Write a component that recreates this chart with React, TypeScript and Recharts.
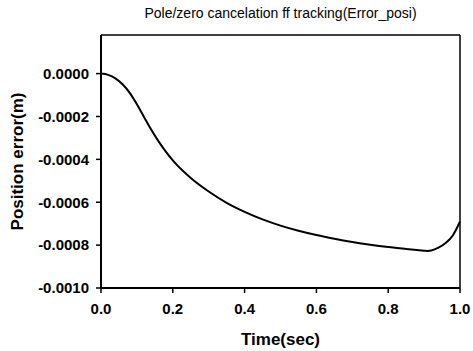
import React from 'react';
import { LineChart, Line, XAxis, YAxis, ReferenceLine, Label } from 'recharts';

const TIME = [0, 0.02, 0.04, 0.06, 0.08, 0.1, 0.12, 0.14, 0.16, 0.18, 0.2, 0.25, 0.3, 0.35, 0.4, 0.45, 0.5, 0.55, 0.6, 0.65, 0.7, 0.75, 0.8, 0.85, 0.88, 0.9, 0.91, 0.92, 0.94, 0.96, 0.98, 1.0];
const ERROR = [
  0, -0.000006, -0.000022, -0.00005, -0.00009, -0.000143, -0.000203, -0.000262, -0.000315, -0.000363,
  -0.000405, -0.000487, -0.00055, -0.000603, -0.000645, -0.00068, -0.000709, -0.000733, -0.000753,
  -0.00077, -0.000785, -0.000798, -0.000809, -0.000818, -0.000823, -0.000826, -0.000827, -0.000825,
  -0.000812, -0.00079, -0.000755, -0.00069,
];
const X_TICKS = [0, 0.2, 0.4, 0.6, 0.8, 1.0];
const Y_TICKS = [-0.001, -0.0008, -0.0006, -0.0004, -0.0002, 0];
const Y_MAX = 0.00018;

const data = TIME.map((t, i) => ({ t, err: ERROR[i] }));

const tickStyle = { fill: '#000', fontSize: 15, fontWeight: 700, fontFamily: '"Liberation Sans", Arial, sans-serif' };
const labelStyle = { fill: '#000', fontSize: 17, fontWeight: 700, fontFamily: '"Liberation Sans", Arial, sans-serif' };

export default function App() {
  return (
    <div style={{ position: 'absolute', left: 0, top: 0, width: 473, height: 351, background: '#fff' }}>
      <div
        style={{
          position: 'absolute',
          left: 101,
          width: 359,
          top: 5,
          textAlign: 'center',
          fontSize: 14,
          lineHeight: '16px',
          fontFamily: '"Liberation Sans", Arial, sans-serif',
          color: '#000',
        }}
      >
        Pole/zero cancelation ff tracking(Error_posi)
      </div>
      <LineChart width={473} height={351} data={data} margin={{ top: 35, right: 13, bottom: 0, left: 0 }}>
        <XAxis
          dataKey="t"
          type="number"
          domain={[0, 1]}
          ticks={X_TICKS}
          tickFormatter={(v: number) => v.toFixed(1)}
          tick={tickStyle}
          tickSize={5}
          tickMargin={10}
          height={63}
          axisLine={{ stroke: '#000', strokeWidth: 2 }}
          tickLine={{ stroke: '#000', strokeWidth: 1.5 }}
        >
          <Label value="Time(sec)" position="insideBottom" offset={6} style={labelStyle} />
        </XAxis>
        <YAxis
          type="number"
          domain={[-0.001, Y_MAX]}
          ticks={Y_TICKS}
          tickFormatter={(v: number) => v.toFixed(4)}
          tick={tickStyle}
          tickSize={5}
          tickMargin={7}
          width={101}
          axisLine={{ stroke: '#000', strokeWidth: 2 }}
          tickLine={{ stroke: '#000', strokeWidth: 1.5 }}
        >
          <Label value="Position error(m)" angle={-90} position="insideLeft" offset={17} textAnchor="middle" style={{ ...labelStyle, textAnchor: 'middle' }} />
        </YAxis>
        <ReferenceLine y={Y_MAX} stroke="#000" strokeWidth={1.5} />
        <ReferenceLine x={1} stroke="#000" strokeWidth={1.5} />
        <Line type="monotone" dataKey="err" stroke="#000" strokeWidth={2} dot={false} isAnimationActive={false} />
      </LineChart>
    </div>
  );
}
